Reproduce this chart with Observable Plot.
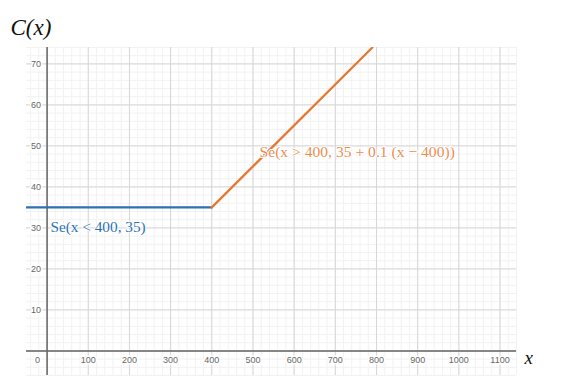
<!DOCTYPE html>
<html>
<head>
<meta charset="utf-8">
<script src="https://cdn.jsdelivr.net/npm/d3@7"></script>
<script src="https://cdn.jsdelivr.net/npm/@observablehq/plot@0.6"></script>
<style>
  html, body { margin: 0; padding: 0; background: #fff; }
  #chart { width: 564px; height: 380px; }
</style>
</head>
<body>
<div id="chart"></div>
<script>
// ---- data ----
const xTickLabels = [100, 200, 300, 400, 500, 600, 700, 800, 900, 1000, 1100];
const yTickLabels = [10, 20, 30, 40, 50, 60, 70];
const xMajorGrid = [0, 100, 200, 300, 400, 500, 600, 700, 800, 900, 1000, 1100];
const yMajorGrid = [0, 10, 20, 30, 40, 50, 60, 70];
const xMinorGrid = d3.range(-40, 1141, 20);
const yMinorGrid = d3.range(-6, 75, 2);
const blueX = [-50, 400];
const blueY = [35, 35];
const orangeX = [400, 790];
const orangeY = [35, 74];
const blueLabel = ["Se(x < 400, 35)"];
const orangeLabel = ["Se(x > 400, 35 + 0.1 (x − 400))"];
const yTitle = ["C(x)"];
const xTitle = ["x"];
const originLabel = ["0"];

const blue = blueX.map((x, i) => ({x, y: blueY[i]}));
const orange = orangeX.map((x, i) => ({x, y: orangeY[i]}));

const BLUE = "#2d70b3", ORANGE = "#e8762d";
const tickFont = {fontFamily: "Arial, 'Liberation Sans', sans-serif", fontSize: 9, fill: "#666", stroke: "white", strokeWidth: 3};

const plot = Plot.plot({
  width: 564,
  height: 380,
  marginLeft: 26,
  marginRight: 48,
  marginTop: 47,
  marginBottom: 5,
  x: {domain: [-50, 1140], axis: null},
  y: {domain: [-6, 74], axis: null},
  style: {background: "white", overflow: "visible"},
  marks: [
    Plot.ruleX(xMinorGrid, {stroke: "#f2f2f2", strokeWidth: 1}),
    Plot.ruleY(yMinorGrid, {stroke: "#f2f2f2", strokeWidth: 1}),
    Plot.ruleX(xMajorGrid, {stroke: "#d6d6d6", strokeWidth: 1}),
    Plot.ruleY(yMajorGrid, {stroke: "#d6d6d6", strokeWidth: 1}),
    Plot.ruleY([0], {stroke: "#666", strokeWidth: 1.5}),
    Plot.ruleX([0], {stroke: "#666", strokeWidth: 1.5}),
    Plot.text(xTickLabels, {x: d => d, y: 0, text: d => String(d), dy: 9.5, textAnchor: "middle", ...tickFont}),
    Plot.text(yTickLabels, {x: 0, y: d => d, text: d => String(d), dx: -6, textAnchor: "end", ...tickFont}),
    Plot.text(originLabel, {x: 0, y: 0, dx: -7, dy: 9.5, textAnchor: "end", ...tickFont}),
    Plot.line(blue, {x: "x", y: "y", stroke: BLUE, strokeWidth: 2.2, clip: true}),
    Plot.line(orange, {x: "x", y: "y", stroke: ORANGE, strokeWidth: 2.2, clip: true}),
    Plot.text(blueLabel, {x: 8, y: 30.3, textAnchor: "start", fill: BLUE, fontFamily: "'Liberation Serif', serif", fontSize: 15.3, stroke: "white", strokeWidth: 2}),
    Plot.text(orangeLabel, {x: 516, y: 48.4, textAnchor: "start", fill: ORANGE, fillOpacity: 0.85, fontFamily: "'Liberation Serif', serif", fontSize: 15.6, stroke: "white", strokeWidth: 2}),
    Plot.text(yTitle, {frameAnchor: "top-left", dx: -16, dy: -20, textAnchor: "start", lineAnchor: "middle", fill: "#111", fontFamily: "'Liberation Serif', serif", fontStyle: "italic", fontSize: 23}),
    Plot.text(xTitle, {x: 1140, y: 0, dx: 8, dy: 7, textAnchor: "start", fill: "#111", fontFamily: "'Liberation Serif', serif", fontStyle: "italic", fontSize: 19})
  ]
});
document.getElementById("chart").appendChild(plot);
</script>
</body>
</html>
